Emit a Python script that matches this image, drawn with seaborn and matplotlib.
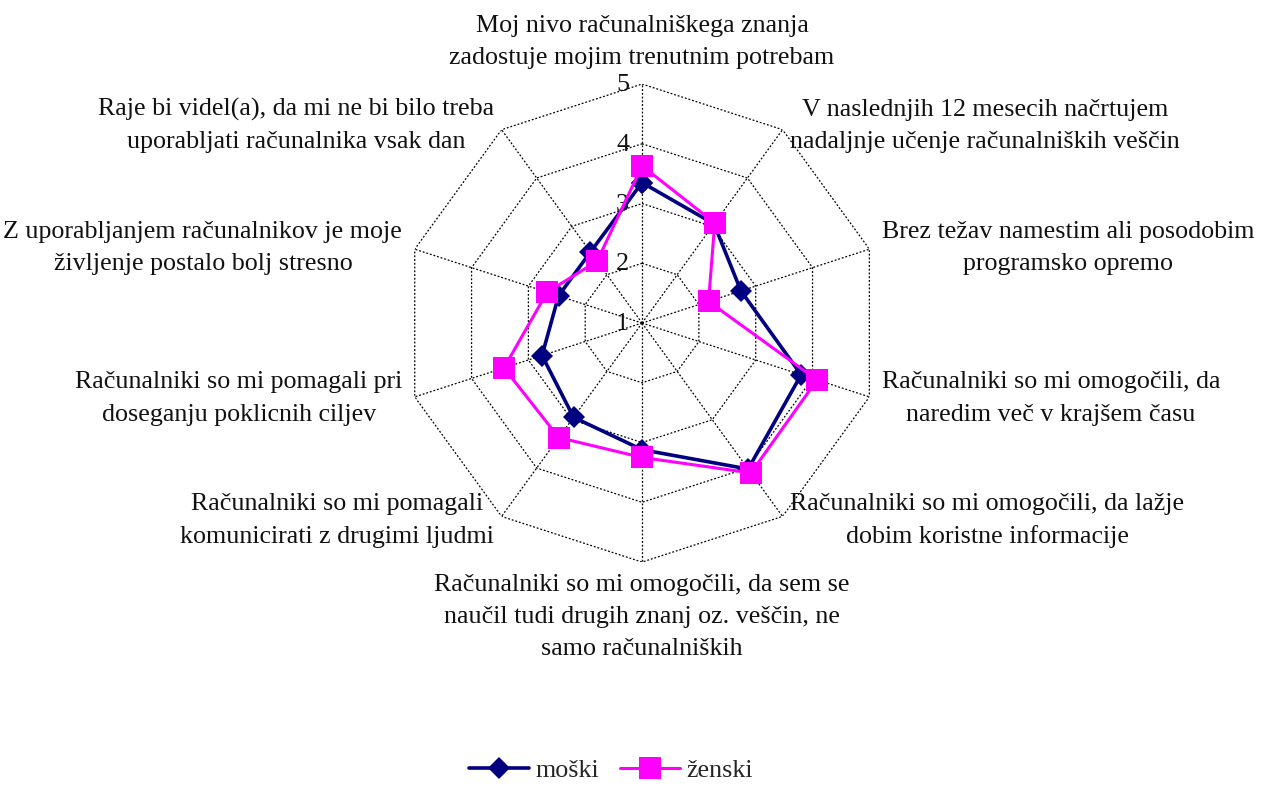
import numpy as np
import pandas as pd
import seaborn as sns
import matplotlib.pyplot as plt

sns.set_theme(style='white')
plt.rcParams['font.family'] = ['Liberation Serif', 'DejaVu Serif']

# Categories (clockwise from the top)
categories = [
    'Moj nivo računalniškega znanja\nzadostuje mojim trenutnim potrebam',
    'V naslednjih 12 mesecih načrtujem\nnadaljnje učenje računalniških veščin',
    'Brez težav namestim ali posodobim\nprogramsko opremo',
    'Računalniki so mi omogočili, da\nnaredim več v krajšem času',
    'Računalniki so mi omogočili, da lažje\ndobim koristne informacije',
    'Računalniki so mi omogočili, da sem se\nnaučil tudi drugih znanj oz. veščin, ne\nsamo računalniških',
    'Računalniki so mi pomagali\nkomunicirati z drugimi ljudmi',
    'Računalniki so mi pomagali pri\ndoseganju poklicnih ciljev',
    'Z uporabljanjem računalnikov je moje\nživljenje postalo bolj stresno',
    'Raje bi videl(a), da mi ne bi bilo treba\nuporabljati računalnika vsak dan',
]
moski = [3.35, 3.05, 2.74, 3.80, 4.02, 3.12, 2.95, 2.76, 2.47, 2.47]
zenski = [3.63, 3.07, 2.17, 4.08, 4.10, 3.25, 3.37, 3.43, 2.67, 2.28]
ticks = [1, 2, 3, 4, 5]

n = len(categories)
angles = np.linspace(0, 2 * np.pi, n, endpoint=False)
angles_closed = np.append(angles, angles[0] + 2 * np.pi)

fig = plt.figure(figsize=(12.67, 8.01), dpi=100)
ax = fig.add_axes([0.3181, 0.2983, 0.3773, 0.5968], projection='polar')
ax.set_theta_zero_location('N')
ax.set_theta_direction(-1)
ax.set_ylim(ticks[0], ticks[-1])
ax.grid(False)
ax.spines['polar'].set_visible(False)
ax.set_xticks([])
ax.set_yticks([])
ax.patch.set_alpha(0)

# polygon grid and spokes
dot = (0, (1.5, 1.5))
for r in ticks[1:]:
    ax.plot(angles_closed, [r] * (n + 1), linestyle=dot, color='black', lw=0.9, zorder=1)
for a in angles:
    ax.plot([a, a], [ticks[0], ticks[-1]], linestyle=dot, color='black', lw=0.9, zorder=1)

# radial tick labels
for t in ticks:
    ax.annotate(str(t), xy=(0, t), xytext=(-13, -1), textcoords='offset pixels',
                ha='right', va='center', fontsize=18.7, color='#111111', zorder=2)

# series
series = [
    ('moški', moski, '#000080', 'D', 11, 2.6),
    ('ženski', zenski, '#FF00FF', 's', 15.5, 2.2),
]
for name, vals, color, marker, ms, lw in series:
    df = pd.DataFrame({'theta': angles_closed, 'val': vals + [vals[0]]})
    sns.lineplot(data=df, x='theta', y='val', sort=False, estimator=None, ax=ax,
                 color=color, marker=marker, markersize=ms, linewidth=lw,
                 markeredgewidth=0, label=name, zorder=3)
ax.set_xlabel('')
ax.set_ylabel('')

# category labels
for a, lab in zip(angles, categories):
    s, c = np.sin(a), np.cos(a)
    if s > 0.1:
        ha = 'left'
    elif s < -0.1:
        ha = 'right'
    else:
        ha = 'center'
    if c > 0.9:
        va, dy = 'bottom', 15
    elif c < -0.9:
        va, dy = 'top', -12
    else:
        va, dy = 'center', 5 * c
    ax.annotate(lab, xy=(a, ticks[-1]), xytext=(13 * s, dy),
                textcoords='offset pixels', ha=ha, va=va, multialignment='center',
                fontsize=18.7, color='#111111', linespacing=1.6, annotation_clip=False)

if ax.legend_:
    ax.legend_.remove()
fig.legend(*ax.get_legend_handles_labels(), loc='center', bbox_to_anchor=(611 / 1267, 1 - 770 / 801),
           ncol=2, frameon=False, fontsize=18.7, handlelength=2.3, columnspacing=0.8,
           handletextpad=0.25)

fig.savefig('out.png', dpi=100)
